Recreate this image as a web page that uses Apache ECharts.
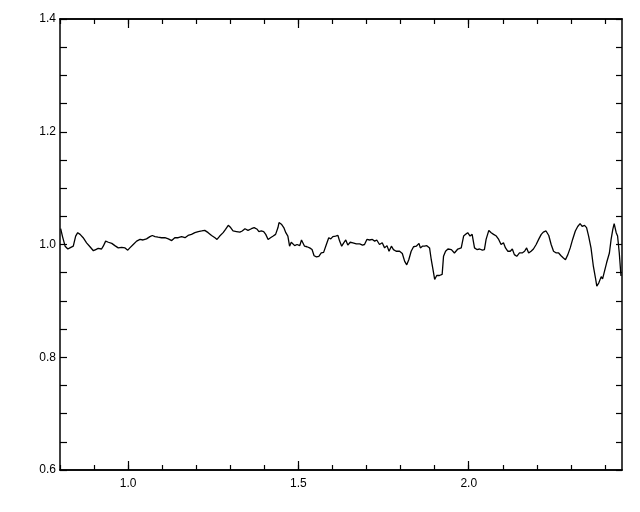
<!DOCTYPE html>
<html>
<head>
<meta charset="utf-8">
<script src="https://cdn.jsdelivr.net/npm/echarts@6/dist/echarts.min.js"></script>
<style>html,body{margin:0;padding:0;background:#fff}#c{width:640px;height:512px}</style>
</head>
<body>
<div id="c"></div>
<script>
const xValues = [0.802,0.807,0.815,0.823,0.829,0.834,0.839,0.846,0.852,0.859,0.868,0.878,0.888,0.898,0.905,0.912,0.922,0.927,0.934,0.942,0.952,0.961,0.971,0.981,0.991,0.999,1.005,1.015,1.025,1.035,1.044,1.054,1.064,1.071,1.079,1.088,1.098,1.108,1.118,1.128,1.137,1.147,1.157,1.167,1.176,1.186,1.196,1.206,1.216,1.225,1.235,1.245,1.255,1.261,1.269,1.279,1.286,1.294,1.301,1.308,1.318,1.328,1.335,1.343,1.352,1.362,1.370,
1.379,1.384,1.391,1.398,1.404,1.411,1.418,1.426,1.433,1.440,1.443,1.450,1.457,1.463,1.469,1.474,1.479,1.484,1.489,1.496,1.504,1.509,1.513,1.518,1.525,1.533,1.540,1.546,1.553,1.560,1.567,1.574,1.582,1.589,1.595,1.601,1.609,1.616,1.621,1.627,1.633,1.639,1.645,1.652,1.660,1.670,1.680,1.688,1.694,1.701,1.709,1.717,1.724,1.730,1.738,1.746,1.753,1.760,1.766,1.773,1.779,1.787,1.797,1.805,1.812,1.818,1.824,1.831,1.838,1.846,1.854,1.858,1.864,1.870,1.877,1.885,1.890,1.895,1.900,1.906,1.914,
1.922,1.926,1.932,1.939,1.949,1.958,1.968,1.978,1.985,1.991,1.997,2.004,2.010,2.017,2.024,2.032,2.040,2.046,2.051,2.059,2.066,2.073,2.081,2.088,2.095,2.102,2.108,2.115,2.122,2.128,2.134,2.141,2.149,2.157,2.164,2.170,2.176,2.183,2.190,2.198,2.206,2.213,2.219,2.227,2.235,2.242,2.249,2.257,2.264,2.271,2.278,2.284,2.291,2.298,2.305,2.313,2.320,2.327,2.333,2.340,2.346,2.352,2.359,2.366,2.372,2.376,2.382,2.389,2.393,2.400,2.405,2.413,2.418,2.423,2.427,2.433,2.437,2.442,2.447];
const yValues = [1.028,1.015,0.997,0.992,0.994,0.991,0.997,1.015,1.021,1.018,1.012,1.003,0.996,0.989,0.991,0.993,0.992,0.997,1.006,1.004,1.002,0.998,0.994,0.995,0.994,0.990,0.994,1.000,1.006,1.009,1.008,1.010,1.014,1.016,1.014,1.013,1.012,1.012,1.010,1.007,1.012,1.012,1.014,1.012,1.016,1.018,1.021,1.023,1.024,1.025,1.021,1.016,1.012,1.009,1.015,1.021,1.027,1.034,1.030,1.024,1.023,1.022,1.024,1.028,1.025,1.028,1.030,
1.027,1.023,1.024,1.023,1.018,1.009,1.012,1.015,1.018,1.030,1.039,1.036,1.030,1.021,1.015,0.997,1.004,1.006,0.998,1.000,0.998,1.008,1.006,0.997,0.996,0.994,0.991,0.980,0.978,0.979,0.985,0.986,1.000,1.012,1.010,1.014,1.015,1.016,1.006,0.997,1.003,1.008,0.999,1.004,1.003,1.001,1.001,0.999,1.000,1.009,1.008,1.009,1.006,1.008,1.000,1.003,0.994,0.998,0.988,0.997,0.991,0.988,0.988,0.984,0.970,0.964,0.973,0.988,0.996,0.997,1.002,0.994,0.997,0.997,0.998,0.994,0.973,0.956,0.938,0.945,0.945,
0.947,0.979,0.988,0.992,0.991,0.985,0.992,0.994,1.015,1.018,1.021,1.015,1.018,0.994,0.991,0.992,0.990,0.991,1.009,1.025,1.021,1.018,1.015,1.009,1.000,1.003,0.994,0.988,0.988,0.992,0.982,0.979,0.985,0.985,0.988,0.994,0.985,0.988,0.992,1.000,1.010,1.018,1.022,1.024,1.016,1.000,0.988,0.985,0.985,0.980,0.976,0.973,0.982,0.994,1.009,1.024,1.032,1.037,1.032,1.034,1.030,1.015,0.994,0.961,0.941,0.926,0.932,0.943,0.939,0.956,0.968,0.985,1.009,1.027,1.037,1.021,1.015,0.985,0.944];

const xMinorTicks = [0.8,0.9,1.0,1.1,1.2,1.3,1.4,1.5,1.6,1.7,1.8,1.9,2.0,2.1,2.2,2.3,2.4];
const xMajorTicks = [1.0,1.5,2.0];
const yMinorTicks = [0.6,0.65,0.7,0.75,0.8,0.85,0.9,0.95,1.0,1.05,1.1,1.15,1.2,1.25,1.3,1.35,1.4];
const yMajorTicks = [0.6,0.8,1.0,1.2,1.4];

const FONT = 'Liberation Sans';
const axisLine = {show:true, onZero:false, lineStyle:{color:'#000', width:1.5}};
function xAx(pos, ticks, len, labels) {
  return {
    type:'value', position:pos, min:0.8, max:2.45, gridIndex:0,
    axisLine: axisLine, splitLine:{show:false},
    axisTick:{show:true, inside:true, length:len, customValues:ticks, lineStyle:{color:'#000', width:1.2}},
    axisLabel: labels ? {show:true, customValues:labels, margin:8, color:'#000', fontFamily:FONT, fontSize:12,
      formatter: v => v.toFixed(1)} : {show:false}
  };
}
function yAx(pos, ticks, len, labels) {
  return {
    type:'value', position:pos, min:0.6, max:1.4, gridIndex:0,
    axisLine: axisLine, splitLine:{show:false},
    axisTick:{show:true, inside:true, length:len, customValues:ticks, lineStyle:{color:'#000', width:1.2}},
    axisLabel: labels ? {show:true, customValues:labels, margin:4, color:'#000', fontFamily:FONT, fontSize:12,
      formatter: v => v.toFixed(1)} : {show:false}
  };
}

const chart = echarts.init(document.getElementById('c'), null, {renderer:'canvas'});
chart.setOption({
  animation:false,
  backgroundColor:'#fff',
  grid:{left:60, right:18, top:19, bottom:42, containLabel:false},
  xAxis:[
    xAx('bottom', xMinorTicks, 5, null),
    xAx('bottom', xMajorTicks, 9, xMajorTicks),
    xAx('top', xMinorTicks, 5, null),
    xAx('top', xMajorTicks, 9, null)
  ],
  yAxis:[
    yAx('left', yMinorTicks, 7, yMajorTicks),
    yAx('right', yMinorTicks, 6, null)
  ],
  series:[{
    type:'line', xAxisIndex:0, yAxisIndex:0,
    data: xValues.map((x,i)=>[x, yValues[i]]),
    showSymbol:false, symbol:'none',
    lineStyle:{color:'#000', width:1.3}
  }]
});
</script>
</body>
</html>
